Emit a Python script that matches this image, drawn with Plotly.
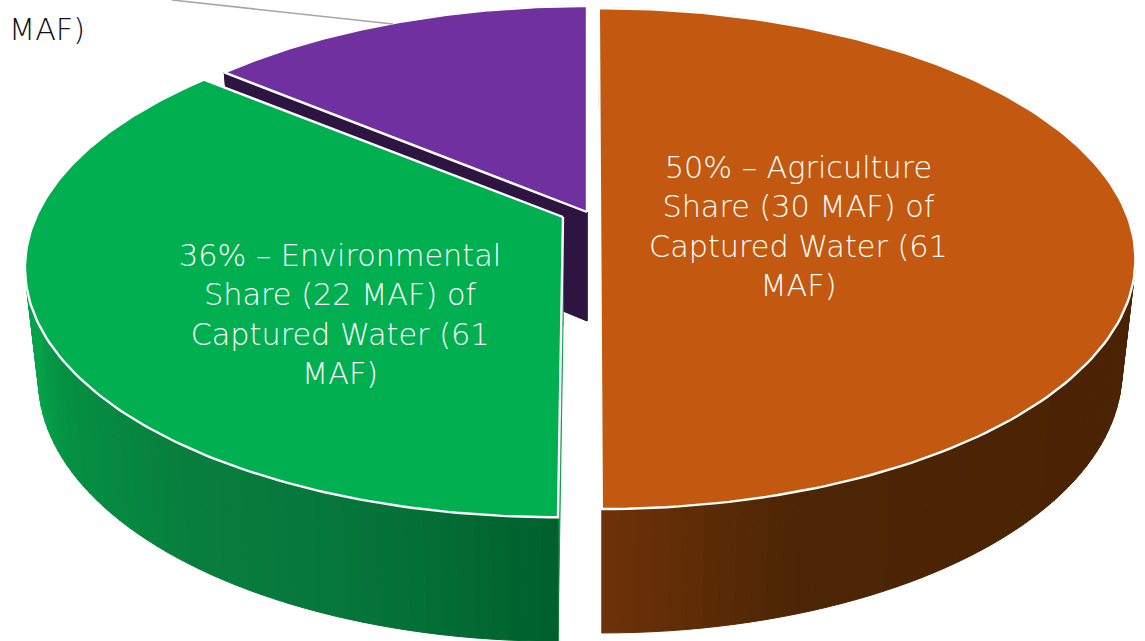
import numpy as np
import plotly.graph_objects as go

# --- data ---
categories = ["Agriculture", "Environmental", "Other"]
shares = [50, 36, 14]
maf = [30, 22, None]
captured_total = 61
top_colors = ["#C35810", "#00AF50", "#7030A0"]
cut_colors = ["#5A2A06", "#0F9A4C", "#2E1440"]
wall_stops = {
    "Agriculture": [(601, "#6E3208"), (803, "#4C2505"), (1135, "#4A2304")],
    "Environmental": [(28, "#06A24A"), (60, "#049042"), (175, "#087F3E"), (365, "#06743A"), (558, "#00602D")],
    "Other": [(0, "#2E1440"), (1145, "#2E1440")],
}

# --- pie geometry (pixels in the 1145x641 canvas) ---
W, H = 1145, 641
persp = 0.194
drop = 109
bottom_x, bottom_y = 0.975, 1.05
slice_geom = {
    "Agriculture":   dict(ax=600, ay=210, A=525, B=241, shear=0.006, cuts=False),
    "Environmental": dict(ax=563, ay=217, A=527, B=242, shear=-0.0167, cuts=True),
    "Other":         dict(ax=587, ay=212, A=529, B=246, shear=0.0, cuts=True),
}
draw_order = ["Other", "Environmental", "Agriculture"]


def rim(g, theta, lower=False):
    u, v = np.sin(theta), np.cos(theta)
    w = 1 + persp * v
    dx, dy = g["A"] * u / w, -g["B"] * v / w
    sx = dy * g["shear"]
    if lower:
        return g["ax"] + bottom_x * dx + sx, g["ay"] + drop + bottom_y * dy
    return g["ax"] + dx + sx, g["ay"] + dy


def shade(stops, x):
    xs = [s[0] for s in stops]
    rgb = [[int(s[1][i:i + 2], 16) for i in (1, 3, 5)] for s in stops]
    vals = [np.interp(x, xs, [c[k] for c in rgb]) for k in range(3)]
    return "#%02x%02x%02x" % tuple(int(round(v)) for v in vals)


def poly(fig, xs, ys, color, line_color=None, line_width=1):
    fig.add_trace(go.Scatter(
        x=list(xs) + [xs[0]], y=list(ys) + [ys[0]], mode="lines", fill="toself",
        fillcolor=color, line=dict(color=line_color or color, width=line_width),
        hoverinfo="skip", showlegend=False))


fig = go.Figure()
starts = np.cumsum([0] + shares[:-1]) / sum(shares) * 2 * np.pi
ends = np.cumsum(shares) / sum(shares) * 2 * np.pi

for name in draw_order:
    i = categories.index(name)
    g = slice_geom[name]
    t0, t1 = starts[i], ends[i]
    # cut faces
    if g["cuts"]:
        for t in (t0, t1):
            xt, yt = rim(g, t)
            xb, yb = rim(g, t, True)
            poly(fig, [g["ax"], xt, xb, g["ax"]], [g["ay"], yt, yb, g["ay"] + drop], cut_colors[i])
    # outer wall, drawn as thin strips shaded by screen position
    n = max(8, int(shares[i] * 2.4))
    edges = np.linspace(t0, t1, n + 1)
    for a, b in zip(edges[:-1], edges[1:]):
        xa, ya = rim(g, a)
        xb, yb = rim(g, b)
        xc, yc = rim(g, b, True)
        xd, yd = rim(g, a, True)
        poly(fig, [xa, xb, xc, xd], [ya, yb, yc, yd], shade(wall_stops[name], (xa + xb) / 2))
    # top face
    ts = np.linspace(t0, t1, 160)
    pts = [rim(g, t) for t in ts]
    poly(fig, [g["ax"]] + [p[0] for p in pts], [g["ay"]] + [p[1] for p in pts],
         top_colors[i], "#FFFFFF", 2.4)

# leader line of the cropped third label
leader_x = [172, 393]
leader_y = [0, 24]
fig.add_trace(go.Scatter(x=leader_x, y=leader_y, mode="lines",
                         line=dict(color="#A6A6A6", width=1.5),
                         hoverinfo="skip", showlegend=False))

FONT = "DejaVu Sans"
SIZE = 30.3
label_pos = {"Agriculture": (798, 226), "Environmental": (340, 314)}
for name, (lx, ly) in label_pos.items():
    i = categories.index(name)
    text = (f"{shares[i]}% – {name}<br>Share ({maf[i]} MAF) of<br>"
            f"Captured Water ({captured_total}<br>MAF)")
    fig.add_annotation(x=lx, y=ly, text=text, showarrow=False, align="center",
                       xanchor="center", yanchor="middle",
                       font=dict(family=FONT, size=SIZE, color="#FFFFFF", weight=200))
fig.add_annotation(x=7, y=29, text="MAF)", showarrow=False, xanchor="left", yanchor="middle",
                   font=dict(family=FONT, size=SIZE, color="#111111", weight=200))

fig.update_layout(
    width=W, height=H, margin=dict(l=0, r=0, t=0, b=0),
    paper_bgcolor="#FFFFFF", plot_bgcolor="#FFFFFF", showlegend=False,
    xaxis=dict(range=[0, W], visible=False, fixedrange=True),
    yaxis=dict(range=[H, 0], visible=False, fixedrange=True),
)
fig.write_html("out.html", config=dict(displayModeBar=False),
               post_script="document.body.style.margin='0';document.documentElement.style.overflow='hidden';")
